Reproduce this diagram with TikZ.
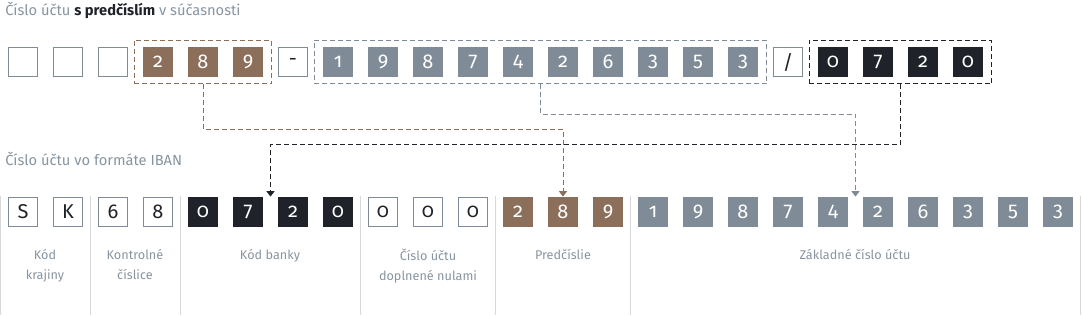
\documentclass[tikz,border=0pt]{standalone}
\usepackage{fontspec}
\setmainfont{Fira Sans}[Numbers=OldStyle]
\usepackage{tikz}
\usetikzlibrary{fit,arrows.meta}
\definecolor{predbrown}{HTML}{8B6F5A}
\definecolor{basegray}{HTML}{7F8C97}
\definecolor{bankdark}{HTML}{1F2329}
\definecolor{captiongray}{HTML}{8795A1}
\definecolor{rulegray}{HTML}{D6D9DC}

\begin{document}
\begin{tikzpicture}[
  x=0.75pt, y=-0.75pt,
  cell/.style={minimum size=22pt, inner sep=0pt, line width=0.75pt, font=\fontsize{15}{15}\selectfont},
  blank/.style={cell, draw=basegray, fill=white, text=bankdark},
  prebox/.style={cell, fill=predbrown, text=white},
  basebox/.style={cell, fill=basegray, text=white},
  bankbox/.style={cell, fill=bankdark, text=white},
  frame/.style={dash pattern=on 3.75pt off 2.25pt, line width=0.75pt, inner xsep=6.5pt, inner ysep=5pt},
  group/.style={inner sep=0pt},
  flow/.style={dash pattern=on 3.75pt off 2.25pt, line width=0.75pt, -{Triangle[width=6pt,length=4pt]}},
  title/.style={anchor=base west, inner sep=0pt, font=\fontsize{11}{13}\selectfont, text=captiongray},
  lbl/.style={anchor=north, align=center, inner sep=0pt, font=\fontsize{9.5}{15}\selectfont, text=captiongray},
  sep/.style={draw=rulegray, line width=0.75pt}
]
\useasboundingbox (0,0) rectangle (1082,315);

% account number today
\node[title] (toptitle) at (5,15.5)
  {Číslo účtu \textcolor{bankdark}{\bfseries s predčíslím} v súčasnosti};

\foreach \i in {0,1,2}
  \node[blank] (t\i) at (23+45*\i,62) {};
\foreach \d [count=\i from 3] in {2,8,9}
  \node[prebox] (t\i) at (23+45*\i,62) {\d};
\node[blank] (t6) at (293,62) {-};
\foreach \d [count=\i from 7] in {1,9,8,7,4,2,6,3,5,3}
  \node[basebox] (t\i) at (23+45*\i,62) {\d};
\node[blank] (t17) at (788,62) {/};
\foreach \d [count=\i from 18] in {0,7,2,0}
  \node[bankbox] (t\i) at (23+45*\i,62) {\d};

\node[frame, draw=predbrown, fit=(t3) (t5)] (preframe) {};
\node[frame, draw=basegray, fit=(t7) (t16)] (baseframe) {};
\node[frame, draw=bankdark, fit=(t18) (t21)] (bankframe) {};

% IBAN
\node[title] (ibantitle) at (5,165) {Číslo účtu vo formáte IBAN};

\foreach \d [count=\i from 0] in {S,K,6,8}
  \node[blank] (b\i) at (23+45*\i,212) {\d};
\foreach \d [count=\i from 4] in {0,7,2,0}
  \node[bankbox] (b\i) at (23+45*\i,212) {\d};
\foreach \d [count=\i from 8] in {0,0,0}
  \node[blank] (b\i) at (23+45*\i,212) {\d};
\foreach \d [count=\i from 11] in {2,8,9}
  \node[prebox] (b\i) at (23+45*\i,212) {\d};
\foreach \d [count=\i from 14] in {1,9,8,7,4,2,6,3,5,3}
  \node[basebox] (b\i) at (23+45*\i,212) {\d};

\node[group, fit=(b4) (b7)] (bankgroup) {};
\node[group, fit=(b11) (b13)] (pregroup) {};
\node[group, fit=(b14) (b23)] (basegroup) {};

\foreach \x in {0.5,90.5,180.5,360.5,495.5,630.5,1080.5}
  \draw[sep] (\x,196) -- (\x,315);

\node[lbl] (lcountry) at (45,249) {Kód\\krajiny};
\node[lbl] (lcheck) at (135,249) {Kontrolné\\číslice};
\node[lbl] (lbank) at (270,249) {Kód banky};
\node[lbl] (lzeros) at (428,249) {Číslo účtu\\doplnené nulami};
\node[lbl] (lprefix) at (563,249) {Predčíslie};
\node[lbl] (lbase) at (855,249) {Základné číslo účtu};

\draw[flow, draw=predbrown] (preframe.south) -- ++(0,45) -| (pregroup.north);
\draw[flow, draw=basegray] (baseframe.south) -- ++(0,30) -| (basegroup.north);
\draw[flow, draw=bankdark] (bankframe.south) -- ++(0,60) -| (bankgroup.north);

\end{tikzpicture}
\end{document}
